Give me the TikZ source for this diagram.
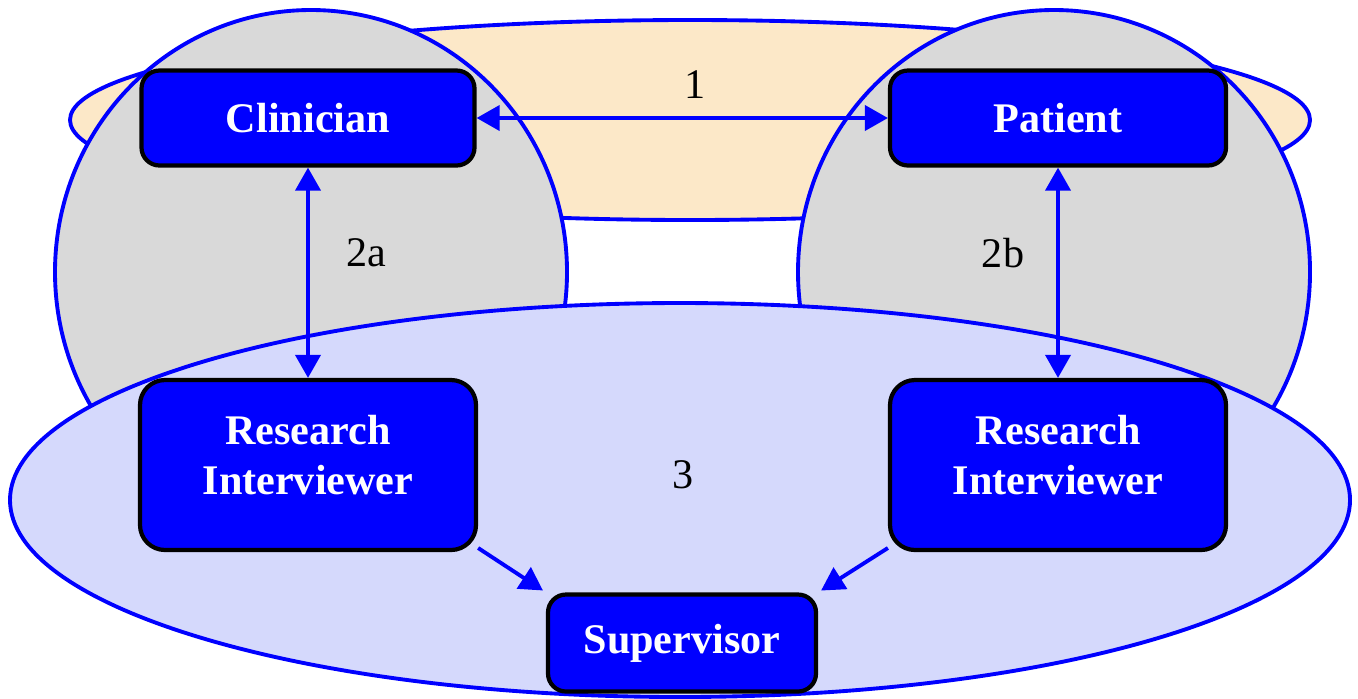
\documentclass[tikz,border=0pt]{standalone}
\usepackage{fontspec}
\setmainfont{Liberation Serif}
\usetikzlibrary{arrows.meta,positioning}
\definecolor{boxblue}{RGB}{0,0,255}
\definecolor{wheatfill}{RGB}{252,232,200}
\definecolor{grayfill}{RGB}{217,217,217}
\definecolor{lavfill}{RGB}{213,217,252}
\tikzset{
  agent/.style={draw=black, line width=1.2pt, fill=boxblue, text=white,
    rounded corners=0.18cm, align=center, inner sep=2pt,
    font=\fontsize{12}{14.2}\selectfont\bfseries},
  region/.style={draw=boxblue, line width=1.1pt},
  link/.style={draw=boxblue, line width=1.1pt,
    {Triangle[length=0.23cm,width=0.25cm]}-{Triangle[length=0.23cm,width=0.25cm]}},
  oneway/.style={draw=boxblue, line width=1.1pt,
    -{Triangle[length=0.23cm,width=0.25cm]}, shorten >=1pt},
  tag/.style={font=\fontsize{12}{14.2}\selectfont, inner sep=1pt}
}

\begin{document}
\begin{tikzpicture}
\useasboundingbox (0,0) rectangle (13.58,-6.98);

% regions
\filldraw[region, fill=wheatfill] (6.90,-1.20) ellipse [x radius=6.20, y radius=1.00];
\filldraw[region, fill=grayfill] (3.11,-2.72) ellipse [x radius=2.56, y radius=2.62];
\filldraw[region, fill=grayfill] (10.54,-2.72) ellipse [x radius=2.56, y radius=2.62];
\filldraw[region, fill=lavfill] (6.80,-5.00) ellipse [x radius=6.70, y radius=1.97];

% people
\node[agent, minimum width=3.33cm, minimum height=0.95cm] (clin) at (3.08,-1.18) {Clinician};
\node[agent, minimum width=3.36cm, minimum height=0.95cm] (pat) at (10.58,-1.18) {Patient};
\node[agent, minimum width=3.36cm, minimum height=1.70cm, rounded corners=0.25cm] (riA) at (3.08,-4.65)
  {Research\\Interviewer\rule[-0.2cm]{0pt}{0.2cm}};
\node[agent, minimum width=3.36cm, minimum height=1.70cm, rounded corners=0.25cm] (riB) at (10.58,-4.65)
  {Research\\Interviewer\rule[-0.2cm]{0pt}{0.2cm}};
\node[agent, minimum width=2.68cm, minimum height=0.97cm] (sup) at (6.82,-6.43) {Supervisor};

% links
\draw[link] (clin) -- (pat);
\draw[link] (clin) -- (riA);
\draw[link] (pat) -- (riB);
\draw[oneway] (riA.-26) -- (sup.north west);
\draw[oneway] (riB.206) -- (sup.north east);

% numbers
\node[tag] (n1) at (6.95,-0.85) {1};
\node[tag] (n2a) at (3.66,-2.53) {2a};
\node[tag] (n2b) at (10.03,-2.53) {2b};
\node[tag] (n3) at (6.83,-4.75) {3};
\end{tikzpicture}
\end{document}
